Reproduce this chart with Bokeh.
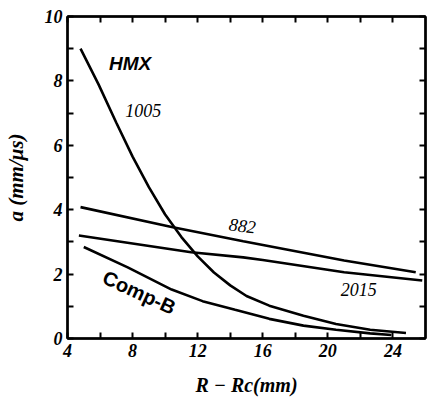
from bokeh.plotting import figure
from bokeh.models import Label, LinearAxis, FixedTicker
from bokeh.embed import file_html
from bokeh.resources import INLINE

# ---- data ----
hmx_x = [4.8, 5.9, 7.0, 8.0, 9.0, 10.0, 11.0, 12.0, 13.0, 14.0, 15.0, 16.4, 18.5, 20.5, 22.6, 24.8]
hmx_y = [9.0, 7.9, 6.7, 5.65, 4.7, 3.85, 3.15, 2.55, 2.05, 1.65, 1.32, 1.02, 0.71, 0.45, 0.27, 0.17]

s882_x = [4.8, 10.4, 14.8, 21.0, 25.4]
s882_y = [4.08, 3.46, 3.02, 2.42, 2.06]

s2015_x = [4.7, 11.6, 14.8, 16.0, 21.0, 25.8]
s2015_y = [3.20, 2.68, 2.52, 2.44, 2.06, 1.80]

compb_x = [5.0, 7.7, 10.4, 12.3, 14.3, 16.4, 18.5, 20.5, 22.6, 23.9]
compb_y = [2.84, 2.21, 1.52, 1.16, 0.89, 0.61, 0.40, 0.27, 0.16, 0.11]

x_ticks = [4, 6, 8, 10, 12, 14, 16, 18, 20, 22, 24]
x_tick_labels = ["4", "", "8", "", "12", "", "16", "", "20", "", "24"]
y_ticks = [0, 1, 2, 3, 4, 5, 6, 7, 8, 9, 10]
y_tick_labels = ["0", "", "2", "", "4", "", "6", "", "8", "", "10"]

x_title = "R \u2212 Rc(mm)"
y_title = "a (mm/\u03bcs)"

serif = "Liberation Serif"
sans = "Liberation Sans"

p = figure(width=427, height=399, x_range=(4, 26), y_range=(0, 10),
           output_backend="svg", toolbar_location=None,
           min_border_left=67, min_border_right=2, min_border_top=16, min_border_bottom=61)
p.xgrid.visible = False
p.ygrid.visible = False
p.outline_line_color = "black"
p.outline_line_width = 2
p.background_fill_color = "white"
p.border_fill_color = "white"

def style_axis(ax, ticks, labels, show_labels=True):
    ax.ticker = FixedTicker(ticks=ticks)
    ax.major_label_overrides = {t: l for t, l in zip(ticks, labels)}
    ax.axis_line_color = "black"
    ax.axis_line_width = 2.5
    ax.major_tick_in = 6
    ax.major_tick_out = 0
    ax.major_tick_line_width = 2
    ax.minor_tick_line_color = None
    ax.major_label_text_font = serif
    ax.major_label_text_font_style = "bold italic"
    ax.major_label_text_font_size = "18px" if show_labels else "0px"
    ax.major_label_text_color = "black"
    ax.axis_label_text_font = serif
    ax.axis_label_text_font_style = "bold italic"
    ax.axis_label_text_color = "black"

style_axis(p.xaxis[0], x_ticks, x_tick_labels)
p.xaxis[0].major_label_standoff = 5
p.xaxis[0].axis_label = x_title
p.xaxis[0].axis_label_text_font_size = "20px"
p.xaxis[0].axis_label_standoff = 14

style_axis(p.yaxis[0], y_ticks, y_tick_labels)
p.yaxis[0].major_label_standoff = 5
p.yaxis[0].axis_label = y_title
p.yaxis[0].axis_label_text_font_size = "21px"
p.yaxis[0].axis_label_standoff = 14

top = LinearAxis()
style_axis(top, x_ticks, ["" for _ in x_ticks], show_labels=False)
top.major_label_standoff = 0
p.add_layout(top, "above")
right = LinearAxis()
style_axis(right, y_ticks, ["" for _ in y_ticks], show_labels=False)
right.major_label_standoff = 0
p.add_layout(right, "right")

for xs, ys in [(hmx_x, hmx_y), (s882_x, s882_y), (s2015_x, s2015_y), (compb_x, compb_y)]:
    p.line(xs, ys, line_color="black", line_width=2.6)

def lab(x, y, t, font, style, size, angle=0.0, align="center", base="middle"):
    p.add_layout(Label(x=x, y=y, text=t, text_font=font, text_font_style=style,
                       text_font_size=size, text_color="black", angle=angle,
                       text_align=align, text_baseline=base))

lab(7.85, 8.54, "HMX", sans, "bold italic", "19px")
lab(8.66, 7.08, "1005", serif, "italic", "18px")
lab(14.75, 3.51, "882", serif, "italic", "18px", angle=-0.12)
lab(21.9, 1.52, "2015", serif, "italic", "18px")
lab(8.41, 1.43, "Comp-B", sans, "bold", "20px", angle=-0.43)

open("out.html", "w").write(file_html(p, INLINE))
